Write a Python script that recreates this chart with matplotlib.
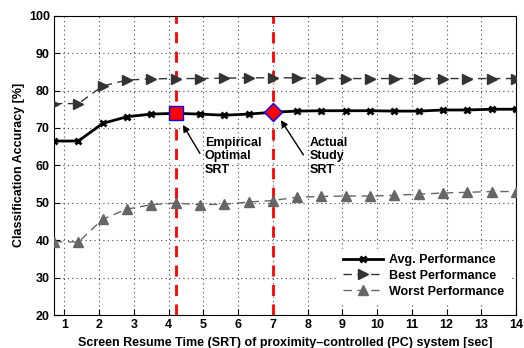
import matplotlib
matplotlib.use("Agg")
import matplotlib.pyplot as plt
import numpy as np

plt.rcParams['font.family'] = ['Liberation Sans', 'DejaVu Sans']
plt.rcParams['font.weight'] = 'bold'

srt = [0.7, 1.4, 2.1, 2.8, 3.5, 4.2, 4.9, 5.6, 6.3, 7.0,
       7.7, 8.4, 9.1, 9.8, 10.5, 11.2, 11.9, 12.6, 13.3, 14.0]
avg_perf = [66.5, 66.5, 71.2, 73.0, 73.7, 73.9, 73.7, 73.4, 73.7, 74.2,
            74.5, 74.6, 74.6, 74.6, 74.5, 74.5, 74.8, 74.8, 75.0, 75.0]
best_perf = [76.5, 76.5, 81.2, 82.8, 83.1, 83.2, 83.2, 83.3, 83.4, 83.4,
             83.4, 83.2, 83.2, 83.2, 83.2, 83.2, 83.2, 83.2, 83.2, 83.2]
worst_perf = [39.6, 39.5, 45.6, 48.3, 49.5, 49.9, 49.5, 49.6, 50.2, 50.6,
              51.5, 51.7, 51.8, 51.8, 52.0, 52.3, 52.6, 52.8, 53.0, 53.0]
empirical_srt = 4.2
actual_srt = 7.0
xticks = list(range(1, 15))
yticks = list(range(20, 101, 10))

fig = plt.figure(figsize=(5.24, 3.48), dpi=100)
ax = fig.add_axes([0.1031, 0.0948, 0.8816, 0.8601])

ax.plot(srt, avg_perf, color='black', lw=2.0, marker='x', ms=5, mew=2,
        label='Avg. Performance', zorder=4)
ax.plot(srt, best_perf, color='#333333', lw=1.0, ls=(0, (6, 4)), marker='>',
        ms=7, mec='#333333', mfc='#333333', label='Best Performance', zorder=3)
ax.plot(srt, worst_perf, color='#666666', lw=1.0, ls=(0, (6, 4)), marker='^',
        ms=7, mec='#666666', mfc='#666666', label='Worst Performance', zorder=3)

ax.axvline(empirical_srt, color='red', lw=2, ls=(0, (4, 3)), zorder=2)
ax.axvline(actual_srt, color='red', lw=2, ls=(0, (4, 3)), zorder=2)

i_emp = srt.index(empirical_srt)
i_act = srt.index(actual_srt)
ax.plot([empirical_srt], [avg_perf[i_emp]], marker='s', ms=10, mfc='red',
        mec='blue', mew=1, zorder=6)
ax.plot([actual_srt], [avg_perf[i_act]], marker='D', ms=9, mfc='red',
        mec='blue', mew=1, zorder=6)

arrow_kw = dict(arrowstyle='-|>', color='black', lw=1,
                shrinkA=0, shrinkB=0, mutation_scale=10)
ax.annotate('', xy=(4.41, 70.8), xytext=(4.90, 63.2), arrowprops=arrow_kw,
            zorder=7)
ax.text(5.04, 67.6, 'Empirical\nOptimal\nSRT', fontsize=9, fontweight='bold',
        ha='left', va='top', linespacing=1.15, zorder=7)
ax.annotate('', xy=(7.23, 72.1), xytext=(7.88, 62.8), arrowprops=arrow_kw,
            zorder=7)
ax.text(8.07, 67.6, 'Actual\nStudy\nSRT', fontsize=9, fontweight='bold',
        ha='left', va='top', linespacing=1.15, zorder=7)

ax.set_xlim(0.7, 14)
ax.set_ylim(20, 100)
ax.set_xticks(xticks)
ax.set_yticks(yticks)
ax.tick_params(labelsize=9, direction='in', length=4, width=0.8,
               top=False, right=False, pad=3)
for lab in ax.get_xticklabels() + ax.get_yticklabels():
    lab.set_fontweight('bold')
ax.grid(True, ls=(0, (1, 3)), color='#444444', lw=0.8)
ax.set_axisbelow(True)
for s in ax.spines.values():
    s.set_linewidth(0.8)

ax.set_xlabel('Screen Resume Time (SRT) of proximity\u2013controlled (PC) system [sec]',
              fontsize=9, fontweight='bold', labelpad=4)
ax.set_ylabel('Classification Accuracy [%]', fontsize=9, fontweight='bold',
              labelpad=3)

leg = ax.legend(loc='lower right', bbox_to_anchor=(1.012, 0.0), frameon=True,
                fontsize=9, handlelength=3.2, borderaxespad=1.0,
                handletextpad=0.5, labelspacing=0.3)
leg.get_frame().set_edgecolor('white')
leg.get_frame().set_facecolor('white')
leg.get_frame().set_alpha(1)
leg.get_frame().set_boxstyle('square', pad=0)
for t in leg.get_texts():
    t.set_fontweight('bold')

fig.savefig('out.png', dpi=100)
